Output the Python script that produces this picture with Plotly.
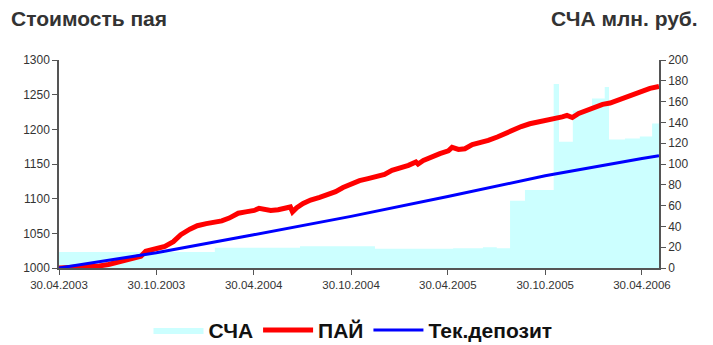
import plotly.graph_objects as go

# ---- data ----
nav_dates = ["2003-04-30", "2004-02-17", "2004-07-26", "2004-12-14", "2005-05-10",
             "2005-07-05", "2005-07-31", "2005-08-25", "2005-09-22", "2005-11-15",
             "2005-11-25", "2005-12-21", "2006-01-26", "2006-02-19", "2006-02-27",
             "2006-03-29", "2006-04-26", "2006-05-19", "2006-06-01"]
nav_values = [15.3, 19.5, 20.8, 18.5, 19.0,
              20.0, 19.0, 64.7, 75.0, 177.0,
              121.5, 151.5, 163.0, 174.0, 123.6,
              124.6, 126.5, 139.0, 139.0]

pai_dates = ["2003-04-30", "2003-05-15", "2003-06-01", "2003-06-15", "2003-07-01", "2003-07-15",
             "2003-08-01", "2003-08-15", "2003-09-01", "2003-09-15", "2003-10-01", "2003-10-10",
             "2003-10-15", "2003-11-01", "2003-11-15", "2003-12-01", "2003-12-15", "2004-01-01",
             "2004-01-15", "2004-02-01", "2004-02-15", "2004-03-01", "2004-03-15", "2004-04-01",
             "2004-04-15", "2004-05-01", "2004-05-10", "2004-05-20", "2004-06-01", "2004-06-15",
             "2004-07-01", "2004-07-08", "2004-07-12", "2004-07-20", "2004-08-01", "2004-08-15",
             "2004-09-01", "2004-09-15", "2004-10-01", "2004-10-15", "2004-11-01", "2004-11-15",
             "2004-12-01", "2004-12-15", "2005-01-01", "2005-01-15", "2005-02-01", "2005-02-15",
             "2005-03-01", "2005-03-05", "2005-03-15", "2005-04-01", "2005-04-15", "2005-05-01",
             "2005-05-08", "2005-05-20", "2005-06-01", "2005-06-15", "2005-07-01", "2005-07-15",
             "2005-08-01", "2005-08-15", "2005-09-01", "2005-09-15", "2005-10-01", "2005-10-15",
             "2005-11-01", "2005-11-15", "2005-12-01", "2005-12-10", "2005-12-20", "2006-01-01",
             "2006-01-15", "2006-02-01", "2006-02-15", "2006-03-01", "2006-03-15", "2006-04-01",
             "2006-04-15", "2006-05-01", "2006-05-15", "2006-06-01"]
pai_values = [1000, 1000.5, 1001, 1002, 1001, 1003,
              1005, 1008, 1011, 1013, 1017, 1024,
              1025, 1027, 1031, 1038, 1048, 1056,
              1061, 1064, 1066, 1068, 1072, 1079,
              1081, 1083, 1086, 1084, 1083, 1084,
              1088, 1088, 1081, 1087, 1093, 1098,
              1102, 1105, 1110, 1116, 1122, 1126,
              1129, 1131, 1135, 1141, 1144, 1148,
              1153, 1150, 1155, 1161, 1165, 1169,
              1174, 1171, 1172, 1178, 1181, 1184,
              1189, 1194, 1199, 1204, 1208, 1210,
              1212, 1215, 1218, 1220, 1217, 1223,
              1227, 1232, 1236, 1238, 1242, 1246,
              1251, 1255, 1259, 1262]

dep_dates = ["2003-04-30", "2003-10-30", "2004-04-30", "2004-10-30", "2005-04-30",
             "2005-10-30", "2006-04-30", "2006-06-01"]
dep_values = [1000, 1022, 1048, 1074.5, 1103, 1133, 1158, 1162]

x_tickvals = ["2003-04-30", "2003-10-30", "2004-04-30", "2004-10-30",
              "2005-04-30", "2005-10-30", "2006-04-30"]
x_ticktext = ["30.04.2003", "30.10.2003", "30.04.2004", "30.10.2004",
              "30.04.2005", "30.10.2005", "30.04.2006"]

FONT = "Arial, Liberation Sans, sans-serif"
AX = "#555555"
TXT = "#333333"

fig = go.Figure()
fig.add_trace(go.Scatter(
    x=nav_dates, y=nav_values, name="СЧА", mode="lines", line_shape="hv",
    line=dict(width=0, color="#CCFFFF"), fill="tozeroy", fillcolor="#CCFFFF",
    yaxis="y"))
fig.add_trace(go.Scatter(
    x=pai_dates, y=pai_values, name="ПАЙ", mode="lines",
    line=dict(width=5, color="#FF0000"), yaxis="y2"))
fig.add_trace(go.Scatter(
    x=dep_dates, y=dep_values, name="Тек.депозит", mode="lines",
    line=dict(width=3, color="#0000FF"), yaxis="y2"))

fig.update_layout(
    width=713, height=345,
    margin=dict(l=59, r=54, t=60, b=77, autoexpand=False),
    paper_bgcolor="white", plot_bgcolor="white",
    font=dict(family=FONT, size=12, color=TXT),
    showlegend=True,
    legend=dict(orientation="h", x=0.49, xanchor="center", y=-0.30, yanchor="middle",
                font=dict(size=21, color="#111111", family=FONT, weight="bold"),
                itemwidth=50, traceorder="normal"),
    xaxis=dict(type="date", range=["2003-04-30", "2006-06-01"],
               tickvals=x_tickvals, ticktext=x_ticktext, automargin=False,
               showline=True, linecolor=AX, linewidth=1.5,
               ticks="outside", ticklen=5, tickcolor=AX,
               showgrid=False, zeroline=False,
               tickfont=dict(size=11.5, color=TXT)),
    yaxis=dict(range=[0, 200], dtick=20, side="right", automargin=False,
               showline=True, linecolor=AX, linewidth=1.5,
               ticks="outside", ticklen=5, tickcolor=AX,
               showgrid=False, zeroline=False,
               tickfont=dict(size=12, color=TXT)),
    yaxis2=dict(range=[1000, 1300], dtick=50, side="left", overlaying="y",
                automargin=False,
                showline=True, linecolor=AX, linewidth=1.5,
                ticks="outside", ticklen=5, tickcolor=AX,
                showgrid=False, zeroline=False,
                tickfont=dict(size=12, color=TXT)),
    annotations=[
        dict(text="<b>Стоимость пая</b>", xref="paper", yref="paper",
             x=-50/600, y=1 + 42/208, xanchor="left", yanchor="middle",
             showarrow=False, font=dict(size=21, color=TXT, family=FONT)),
        dict(text="<b>СЧА млн. руб.</b>", xref="paper", yref="paper",
             x=1 + 41/600, y=1 + 42/208, xanchor="right", yanchor="middle",
             showarrow=False, font=dict(size=21, color=TXT, family=FONT)),
    ],
)

fig.write_html("out.html", config={"displayModeBar": False},
               post_script="document.body.style.margin='0';")
